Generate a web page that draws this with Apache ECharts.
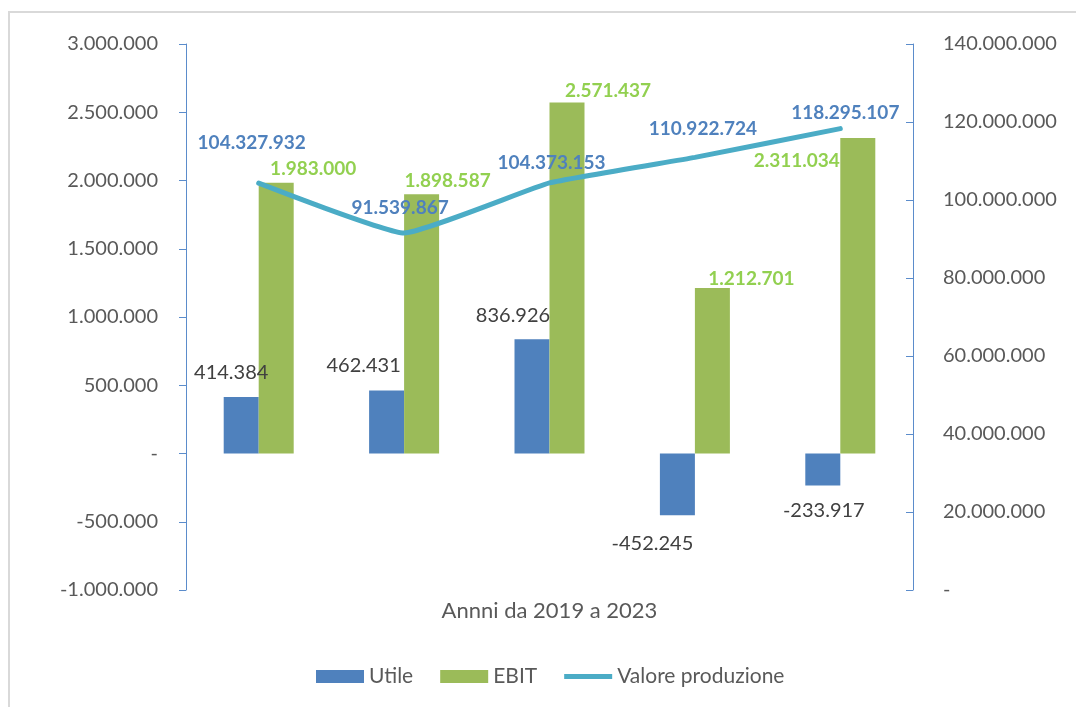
<!DOCTYPE html>
<html>
<head>
<meta charset="utf-8">
<script src="https://cdn.jsdelivr.net/npm/echarts@6/dist/echarts.min.js"></script>
<style>
html,body{margin:0;padding:0;background:#fff;}
#chart{width:1076px;height:707px;}
</style>
</head>
<body>
<div id="chart"></div>
<script>
// ---- data ----
const years = ['2019', '2020', '2021', '2022', '2023'];
const utile = [414384, 462431, 836926, -452245, -233917];
const ebit = [1983000, 1898587, 2571437, 1212701, 2311034];
const valoreProduzione = [104327932, 91539867, 104373153, 110922724, 118295107];
const axisName = 'Annni da 2019 a 2023';

// ---- label placement (not data) ----
const utileOffsets = [[-10, -9], [-23, -10], [-19, -9], [-25, 13], [1, 10]];
const ebitOffsets = [[37, 1], [26, 1], [41, 3], [39, 5], [-61, 37]];
const lineOffsets = [[-7, -25], [-4, -10], [2, -5], [8, -13], [5, 0]];

function fmt(v) {
  if (v === 0) return '-';
  const s = Math.abs(Math.round(v)).toString().replace(/\B(?=(\d{3})+(?!\d))/g, '.');
  return (v < 0 ? '-' : '') + s;
}

const FONT = 'Lato';
const chart = echarts.init(document.getElementById('chart'));

const option = {
  backgroundColor: '#ffffff',
  animation: false,
  textStyle: { fontFamily: FONT },
  graphic: [{
    type: 'rect',
    shape: { x: 9, y: 12, width: 1100, height: 720 },
    style: { fill: 'none', stroke: '#D9D9D9', lineWidth: 2 },
    silent: true
  }],
  grid: { left: 186, right: 163, top: 44, bottom: 117, containLabel: false },
  legend: {
    left: 311,
    top: 661,
    itemWidth: 48,
    itemHeight: 13,
    itemGap: 27,
    textStyle: { fontFamily: FONT, fontSize: 21, color: '#595959' },
    data: [
      { name: 'Utile', icon: 'rect' },
      { name: 'EBIT', icon: 'rect' },
      { name: 'Valore produzione', icon: 'path://M0,0 L100,0 L100,10 L0,10 Z' }
    ]
  },
  xAxis: {
    type: 'category',
    data: years,
    name: axisName,
    nameLocation: 'middle',
    nameGap: 10,
    nameTextStyle: { fontFamily: FONT, fontSize: 22, color: '#595959' },
    axisLine: { show: false, onZero: false },
    axisTick: { show: false },
    axisLabel: { show: false },
    splitLine: { show: false }
  },
  yAxis: [{
    type: 'value',
    min: -1000000,
    max: 3000000,
    interval: 500000,
    position: 'left',
    axisLine: { show: true, lineStyle: { color: '#5B8CCB', width: 1 } },
    axisTick: { show: true, inside: false, length: 7, lineStyle: { color: '#5B8CCB' } },
    splitLine: { show: false },
    axisLabel: { margin: 28, fontFamily: FONT, fontSize: 20, color: '#595959', formatter: fmt }
  }, {
    type: 'value',
    min: 0,
    max: 140000000,
    interval: 20000000,
    position: 'right',
    axisLine: { show: true, lineStyle: { color: '#5B8CCB', width: 1 } },
    axisTick: { show: true, inside: true, length: 7, lineStyle: { color: '#5B8CCB' } },
    splitLine: { show: false },
    axisLabel: { margin: 30, fontFamily: FONT, fontSize: 20, color: '#595959', formatter: fmt }
  }],
  series: [{
    name: 'Utile',
    type: 'bar',
    yAxisIndex: 0,
    barWidth: 35,
    barGap: '0%',
    itemStyle: { color: '#4F81BD' },
    data: utile.map((v, i) => ({
      value: v,
      label: {
        show: true,
        position: v >= 0 ? 'top' : 'bottom',
        offset: utileOffsets[i],
        formatter: p => fmt(p.value),
        fontFamily: FONT, fontSize: 20, color: '#404040'
      }
    }))
  }, {
    name: 'EBIT',
    type: 'bar',
    yAxisIndex: 0,
    barWidth: 35,
    barGap: '0%',
    itemStyle: { color: '#9BBB59' },
    data: ebit.map((v, i) => ({
      value: v,
      label: {
        show: true,
        position: 'top',
        offset: ebitOffsets[i],
        formatter: p => fmt(p.value),
        fontFamily: FONT, fontSize: 19, fontWeight: 'bold', color: '#92D050'
      }
    }))
  }, {
    name: 'Valore produzione',
    type: 'line',
    yAxisIndex: 1,
    smooth: 0.12,
    symbol: 'circle',
    symbolSize: 2,
    showSymbol: true,
    z: 5,
    lineStyle: { color: '#4BACC6', width: 5, cap: 'round' },
    itemStyle: { color: '#4BACC6' },
    label: {
      show: true,
      position: 'top',
      distance: 5,
      formatter: p => fmt(p.value),
      fontFamily: FONT, fontSize: 19, fontWeight: 'bold', color: '#4F81BD'
    },
    labelLayout: p => ({
      dx: lineOffsets[p.dataIndex][0],
      dy: lineOffsets[p.dataIndex][1],
      hideOverlap: false
    }),
    data: valoreProduzione
  }]
};
chart.setOption(option);
</script>
</body>
</html>
